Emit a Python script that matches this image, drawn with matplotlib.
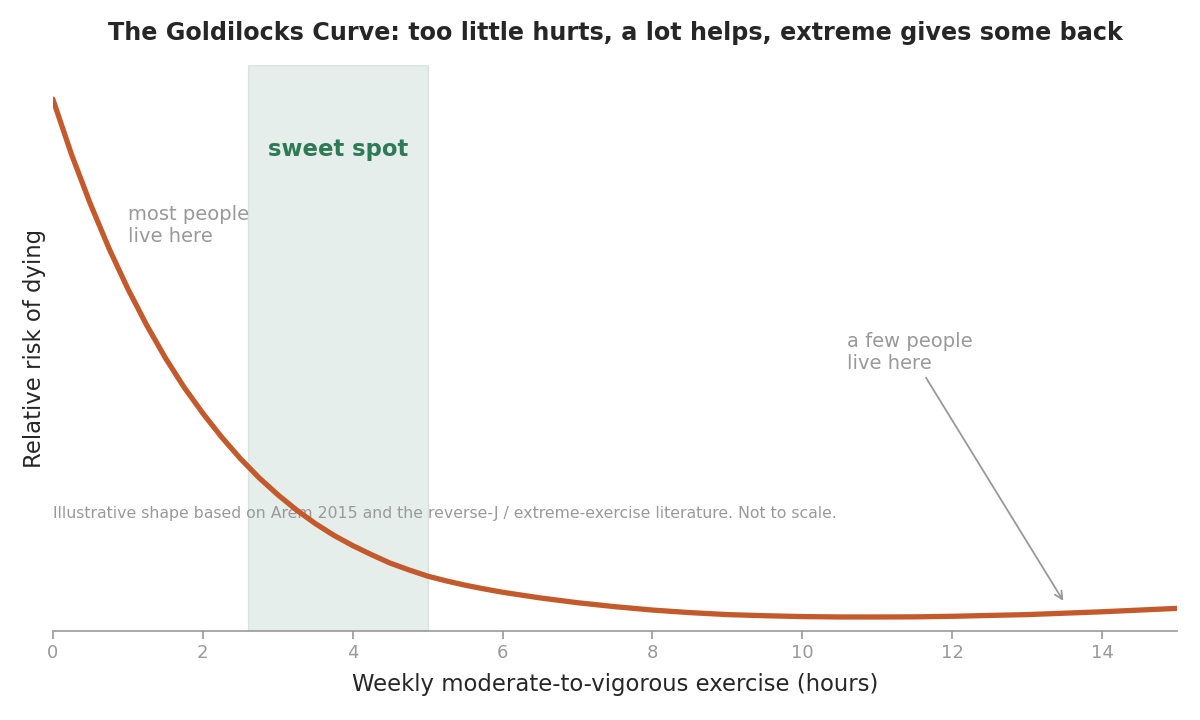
import matplotlib
matplotlib.use("Agg")
import matplotlib.pyplot as plt

# Data (y in arbitrary relative units, axis 0..1)
hours = [0, 0.25, 0.5, 0.75, 1.0, 1.25, 1.5, 1.75, 2.0, 2.25, 2.5, 2.75, 3.0,
         3.25, 3.5, 3.75, 4.0, 4.25, 4.5, 4.75, 5.0, 5.25, 5.5, 5.75, 6.0,
         6.5, 7.0, 7.5, 8.0, 8.5, 9.0, 9.5, 10.0, 10.5, 11.0, 11.5, 12.0,
         13.0, 14.0, 15.0]
risk = [0.940, 0.842, 0.755, 0.676, 0.605, 0.541, 0.483, 0.431, 0.385, 0.343,
        0.305, 0.271, 0.241, 0.214, 0.190, 0.169, 0.151, 0.135, 0.120, 0.108,
        0.097, 0.0885, 0.081, 0.0745, 0.0685, 0.0585, 0.050, 0.043, 0.037,
        0.0325, 0.029, 0.027, 0.0255, 0.0248, 0.0248, 0.025, 0.026, 0.029,
        0.034, 0.040]
sweet_spot = (2.6, 5.0)
x_ticks = [0, 2, 4, 6, 8, 10, 12, 14]

CURVE = "#c45a2c"
GREEN = "#2e7a57"
GRAY = "#999999"
DARK = "#262626"

fig = plt.figure(figsize=(12, 7.2), dpi=100)
ax = fig.add_axes([0.044, 0.1236, 0.937, 0.786])

ax.axvspan(sweet_spot[0], sweet_spot[1], color=GREEN, alpha=0.12, zorder=1)
ax.text(sum(sweet_spot) / 2, 0.850, "sweet spot", ha="center", va="center",
        fontsize=16.4, fontweight="bold", color=GREEN, zorder=3)

ax.text(0, 0.208, "Illustrative shape based on Arem 2015 and the reverse-J / "
        "extreme-exercise literature. Not to scale.",
        ha="left", va="center", fontsize=11.3, color=GRAY, zorder=2)

ax.plot(hours, risk, color=CURVE, lw=3.8, solid_capstyle="round",
        solid_joinstyle="round", zorder=4)

ax.text(1.0, 0.717, "most people\nlive here", ha="left", va="center",
        fontsize=14, color=GRAY, zorder=3)

ax.annotate("a few people\nlive here", xy=(13.5, 0.049), xytext=(10.6, 0.493),
            ha="left", va="center", fontsize=14, color=GRAY,
            arrowprops=dict(arrowstyle="->", color=GRAY, lw=1.3), zorder=3)

ax.set_xlim(0, 15)
ax.set_ylim(0, 1)
ax.set_xticks(x_ticks)
ax.set_yticks([])
for s in ["left", "top", "right"]:
    ax.spines[s].set_visible(False)
ax.spines["bottom"].set_color(GRAY)
ax.spines["bottom"].set_linewidth(1.2)
ax.tick_params(axis="x", colors=GRAY, labelsize=13, length=6, width=1.2)

ax.set_xlabel("Weekly moderate-to-vigorous exercise (hours)", fontsize=16.4,
              color=DARK, labelpad=8)
ax.set_ylabel("Relative risk of dying", fontsize=16.4, color=DARK, labelpad=5)
ax.set_title("The Goldilocks Curve: too little hurts, a lot helps, extreme gives some back",
             fontsize=17.2, fontweight="bold", color=DARK, pad=18)

fig.savefig("out.png", dpi=100, facecolor="white")
